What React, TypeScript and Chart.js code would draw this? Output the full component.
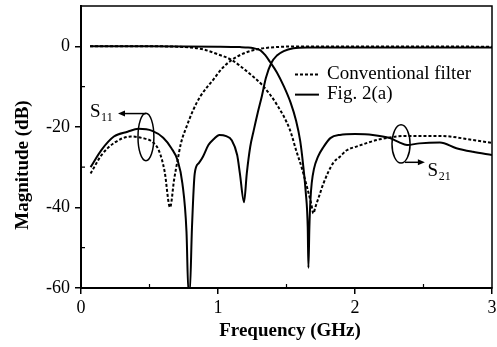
import React, { useEffect, useRef } from 'react';
import { Chart, registerables } from 'chart.js';

Chart.register(...registerables);

// ---- axis ticks ----
const xTickValues = [0, 1, 2, 3];
const yTickValues = [0, -20, -40, -60];
const xMinorTicks = [0.5, 1.5, 2.5];
const yMinorTicks = [-10, -30, -50];

// ---- Fig. 2(a) (solid) ----
const fig2aS21Freq = [0.066, 0.5, 1.0, 1.16, 1.22, 1.26, 1.31, 1.345, 1.38, 1.43, 1.48, 1.53, 1.57, 1.6, 1.62, 1.64, 1.655, 1.66, 1.667, 1.675, 1.684, 1.7, 1.73, 1.77, 1.82, 1.89, 2.0, 2.13, 2.255, 2.32, 2.38, 2.47, 2.62, 2.74, 2.86, 3.0];
const fig2aS21Mag = [0, 0, -0.1, -0.2, -0.3, -0.5, -1.0, -2.2, -3.9, -6.5, -9.9, -14, -18.5, -23.5, -29, -36, -45, -55, -45, -38, -34, -30.5, -27.4, -25, -22.8, -22, -21.8, -22, -22.8, -23.8, -24.5, -24.1, -23.9, -25.3, -26.2, -27];

const fig2aS11Freq = [0.07, 0.15, 0.24, 0.34, 0.42, 0.52, 0.6, 0.66, 0.705, 0.74, 0.77, 0.784, 0.794, 0.81, 0.83, 0.86, 0.89, 0.93, 0.97, 1.01, 1.06, 1.1, 1.14, 1.16, 1.19, 1.21, 1.235, 1.26, 1.29, 1.32, 1.35, 1.39, 1.43, 1.48, 1.55, 1.65, 2.0, 2.5, 3.0];
const fig2aS11Mag = [-30, -25.7, -22.4, -21.2, -20.5, -21, -22.7, -25.3, -28.3, -34, -46, -61, -61, -45, -31.6, -29, -27.4, -24.5, -23, -22, -22.3, -23.3, -27, -31.6, -38.7, -31.6, -25, -21, -16.5, -12.4, -7.8, -4.1, -2.3, -1.2, -0.5, -0.3, -0.3, -0.3, -0.3];

// ---- Conventional filter (dashed) ----
const convS21Freq = [0.066, 0.5, 0.7, 0.8, 0.89, 1.0, 1.1, 1.22, 1.33, 1.43, 1.525, 1.57, 1.61, 1.65, 1.68, 1.696, 1.71, 1.74, 1.77, 1.84, 1.89, 1.94, 2.01, 2.18, 2.38, 2.62, 2.86, 3.0];
const convS21Mag = [0, 0, -0.1, -0.3, -0.75, -2, -3.4, -6.5, -9.9, -14.5, -20.75, -25.8, -30, -35, -39, -41.5, -40, -37, -34, -29, -27.4, -25.8, -24.9, -23.1, -22.25, -22.25, -23.25, -24];

const convS11Freq = [0.07, 0.15, 0.25, 0.365, 0.45, 0.52, 0.57, 0.61, 0.65, 0.68, 0.705, 0.73, 0.77, 0.82, 0.87, 0.966, 1.03, 1.1, 1.2, 1.31, 1.45, 1.6, 2.0, 2.5, 3.0];
const convS11Mag = [-31.6, -27, -23.8, -22.4, -22.8, -23.7, -26, -31, -40, -33, -28.3, -24, -20, -15.75, -12.5, -8.25, -5.5, -3.4, -1.6, -0.6, -0.15, -0.05, -0.05, -0.05, -0.1];

// ---- texts ----
const legendLabels = ['Conventional filter', 'Fig. 2(a)'];
const xTitle = 'Frequency (GHz)';
const yTitle = 'Magnitude (dB)';

// ---- annotation geometry (data units) ----
const annotations = {
  s11: { cx: 0.474, cy: -22.5, rx: 0.058, ry: 5.9, arrowFrom: 0.474, arrowTo: 0.27, arrowY: -16.7, textX: 0.066, textY: -17.6, main: 'S', sub: '11', dir: -1 },
  s21: { cx: 2.336, cy: -24.25, rx: 0.066, ry: 4.75, arrowFrom: 2.365, arrowTo: 2.51, arrowY: -28.8, textX: 2.53, textY: -32.2, main: 'S', sub: '21', dir: 1 },
};
const legendGeom = { x0: 1.562, x1: 1.737, textX: 1.796, rows: [-7, -12] };

const zip = (xs: number[], ys: number[]) => xs.map((x, i) => ({ x, y: ys[i] }));

const SERIF = '"Liberation Serif", "Times New Roman", serif';

const decorPlugin = {
  id: 'decor',
  afterDraw(chart: any) {
    const { ctx, chartArea: a, scales } = chart;
    const x = scales.x;
    const y = scales.y;
    ctx.save();
    ctx.strokeStyle = '#000';
    ctx.fillStyle = '#000';
    // frame
    ctx.lineWidth = 1.5;
    ctx.strokeRect(a.left, a.top, a.right - a.left, a.bottom - a.top);
    // minor ticks (inward)
    ctx.lineWidth = 1.2;
    ctx.beginPath();
    xMinorTicks.forEach((v) => {
      const px = x.getPixelForValue(v);
      ctx.moveTo(px, a.bottom);
      ctx.lineTo(px, a.bottom - 4);
    });
    yMinorTicks.forEach((v) => {
      const py = y.getPixelForValue(v);
      ctx.moveTo(a.left, py);
      ctx.lineTo(a.left + 4, py);
    });
    ctx.stroke();

    // legend
    ctx.lineWidth = 2;
    ctx.font = `19px ${SERIF}`;
    ctx.textBaseline = 'alphabetic';
    ctx.textAlign = 'left';
    legendLabels.forEach((label, i) => {
      const py = y.getPixelForValue(legendGeom.rows[i]);
      ctx.setLineDash(i === 0 ? [3, 2] : []);
      ctx.beginPath();
      ctx.moveTo(x.getPixelForValue(legendGeom.x0), py);
      ctx.lineTo(x.getPixelForValue(legendGeom.x1), py);
      ctx.stroke();
      ctx.setLineDash([]);
      ctx.fillText(label, x.getPixelForValue(legendGeom.textX), py + 4.5);
    });

    // annotations
    Object.values(annotations).forEach((an: any) => {
      const cx = x.getPixelForValue(an.cx);
      const cy = y.getPixelForValue(an.cy);
      const rx = Math.abs(x.getPixelForValue(an.cx + an.rx) - cx);
      const ry = Math.abs(y.getPixelForValue(an.cy + an.ry) - cy);
      ctx.lineWidth = 1.5;
      ctx.beginPath();
      ctx.ellipse(cx, cy, rx, ry, 0, 0, Math.PI * 2);
      ctx.stroke();
      const ay = y.getPixelForValue(an.arrowY);
      const ax0 = x.getPixelForValue(an.arrowFrom);
      const ax1 = x.getPixelForValue(an.arrowTo);
      ctx.beginPath();
      ctx.moveTo(ax0, ay);
      ctx.lineTo(ax1 - an.dir * 5, ay);
      ctx.stroke();
      ctx.beginPath();
      ctx.moveTo(ax1, ay);
      ctx.lineTo(ax1 - an.dir * 7, ay - 3);
      ctx.lineTo(ax1 - an.dir * 7, ay + 3);
      ctx.closePath();
      ctx.fill();
      const tx = x.getPixelForValue(an.textX);
      const ty = y.getPixelForValue(an.textY);
      ctx.font = `19px ${SERIF}`;
      ctx.fillText(an.main, tx, ty);
      const w = ctx.measureText(an.main).width;
      ctx.font = `12px ${SERIF}`;
      ctx.fillText(an.sub, tx + w + 0.5, ty + 3.5);
    });

    // axis titles
    ctx.font = `bold 19px ${SERIF}`;
    ctx.textAlign = 'center';
    ctx.textBaseline = 'middle';
    ctx.fillText(xTitle, (a.left + a.right) / 2 + 3.5, 331);
    ctx.translate(23, (a.top + a.bottom) / 2 + 18);
    ctx.rotate(-Math.PI / 2);
    ctx.fillText(yTitle, 0, 0);
    ctx.restore();
  },
};

export default function App() {
  const ref = useRef<HTMLCanvasElement | null>(null);
  useEffect(() => {
    if (!ref.current) return;
    const base = { borderColor: '#000', borderWidth: 2, pointRadius: 0, cubicInterpolationMode: 'monotone' as const, fill: false };
    const chart = new Chart(ref.current, {
      type: 'line',
      data: {
        datasets: [
          { ...base, label: 'Fig. 2(a) S21', data: zip(fig2aS21Freq, fig2aS21Mag) },
          { ...base, label: 'Fig. 2(a) S11', data: zip(fig2aS11Freq, fig2aS11Mag) },
          { ...base, label: 'Conventional S21', data: zip(convS21Freq, convS21Mag), borderDash: [3, 2] },
          { ...base, label: 'Conventional S11', data: zip(convS11Freq, convS11Mag), borderDash: [3, 2] },
        ],
      },
      options: {
        responsive: false,
        animation: false,
        layout: { padding: { left: 0, top: 6, right: 5, bottom: 0 } },
        plugins: { legend: { display: false }, tooltip: { enabled: false }, title: { display: false } },
        scales: {
          x: {
            type: 'linear',
            min: 0,
            max: 3,
            afterBuildTicks: (s: any) => { s.ticks = xTickValues.map((v) => ({ value: v })); },
            afterFit: (s: any) => { s.height = 59; s.paddingLeft = 0; s.paddingRight = 0; },
            ticks: { color: '#000', font: { family: SERIF, size: 18 }, padding: 3, maxRotation: 0, callback: (v: any) => String(v) },
            grid: { display: true, drawOnChartArea: false, drawTicks: true, tickLength: 6, color: '#000', lineWidth: 1.5 },
            border: { display: true, color: '#000', width: 2 },
          },
          y: {
            type: 'linear',
            min: -60,
            max: 10,
            afterBuildTicks: (s: any) => { s.ticks = yTickValues.map((v) => ({ value: v })); },
            afterFit: (s: any) => { s.width = 81; s.paddingTop = 0; s.paddingBottom = 0; },
            ticks: { color: '#000', font: { family: SERIF, size: 18 }, padding: 5, callback: (v: any) => String(v) },
            grid: { display: true, drawOnChartArea: false, drawTicks: true, tickLength: 6, color: '#000', lineWidth: 1.5 },
            border: { display: true, color: '#000', width: 2 },
          },
        },
      },
      plugins: [decorPlugin],
    });
    return () => chart.destroy();
  }, []);
  return (
    <div style={{ position: 'absolute', left: 0, top: 0, width: 497, height: 347, background: '#fff' }}>
      <canvas ref={ref} width={497} height={347} style={{ display: 'block' }} />
    </div>
  );
}
